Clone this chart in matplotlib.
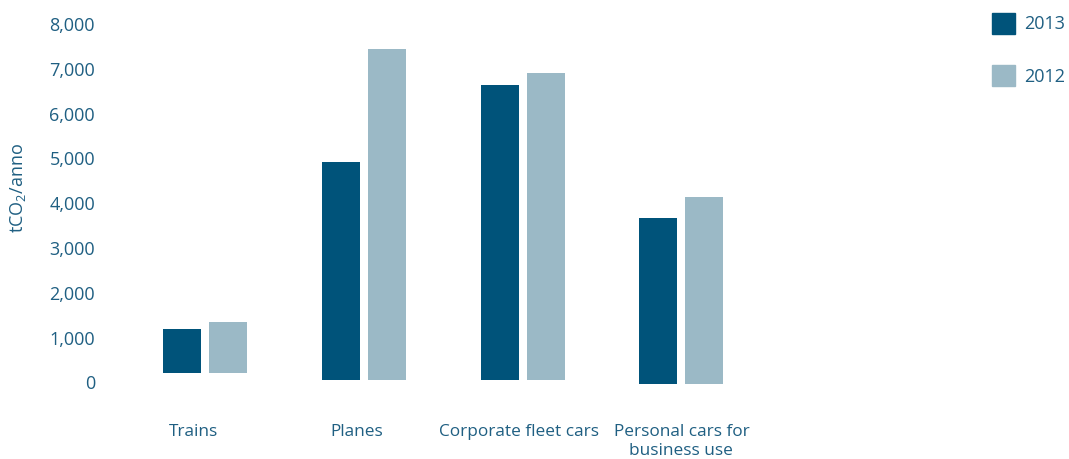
import numpy as np
import matplotlib
matplotlib.use("Agg")
import matplotlib.pyplot as plt
from matplotlib.patches import Patch

# data
categories = ["Trains", "Planes", "Corporate fleet cars", "Personal cars for\nbusiness use"]
years = ["2013", "2012"]
values_2013 = [1200, 4920, 6640, 3670]
values_2012 = [1350, 7450, 6900, 4140]
# the bars in the original do not all start at zero
bar_base = [200, 50, 50, -35]
y_ticks = [0, 1000, 2000, 3000, 4000, 5000, 6000, 7000, 8000]

dark = "#00537a"
light = "#9bb9c6"
text_col = "#1f5f82"

plt.rcParams['font.family'] = ['Open Sans', 'DejaVu Sans']
plt.rcParams['mathtext.fontset'] = 'custom'
plt.rcParams['mathtext.rm'] = 'Open Sans'
plt.rcParams['mathtext.it'] = 'Open Sans'

fig = plt.figure(figsize=(10.69, 4.59), dpi=100)
ax = fig.add_axes([0.1175, 0.1375, 0.5942, 0.8102])

x = np.arange(len(categories))
width = 0.239
offset = 0.145
base = np.array(bar_base)

ax.bar(x - offset, np.array(values_2013) - base, width, bottom=base, color=dark, label=years[0])
ax.bar(x + offset, np.array(values_2012) - base, width, bottom=base, color=light, label=years[1])

ax.set_xlim(-0.5, 3.5)
ax.set_ylim(-300, 8000)

ax.set_yticks(y_ticks)
ax.set_yticklabels([f"{v:,}" for v in y_ticks])
# labels sit a little left of the bar pairs in the original
ax.set_xticks(x - np.array([0.07, 0.045, 0.025, 0.0]))
ax.set_xticklabels(categories, linespacing=1.3)
ax.tick_params(axis='y', length=0, pad=22, labelsize=13, labelcolor=text_col)
ax.tick_params(axis='x', length=0, pad=20, labelsize=12.4, labelcolor=text_col)

for s in ax.spines.values():
    s.set_visible(False)

fig.text(0.017, 0.59, "tCO$_{\\mathregular{2}}$/anno", rotation=90, ha='center', va='center',
         color=text_col, fontsize=13)

handles = [Patch(color=dark, label=years[0]), Patch(color=light, label=years[1])]
leg = fig.legend(handles=handles, loc='upper left', bbox_to_anchor=(0.928, 0.972),
                 frameon=False, fontsize=13, handlelength=1.25, handleheight=1.4,
                 handletextpad=0.55, labelspacing=1.75, borderaxespad=0, borderpad=0)
for t in leg.get_texts():
    t.set_color(text_col)

fig.savefig("out.png", dpi=100)
